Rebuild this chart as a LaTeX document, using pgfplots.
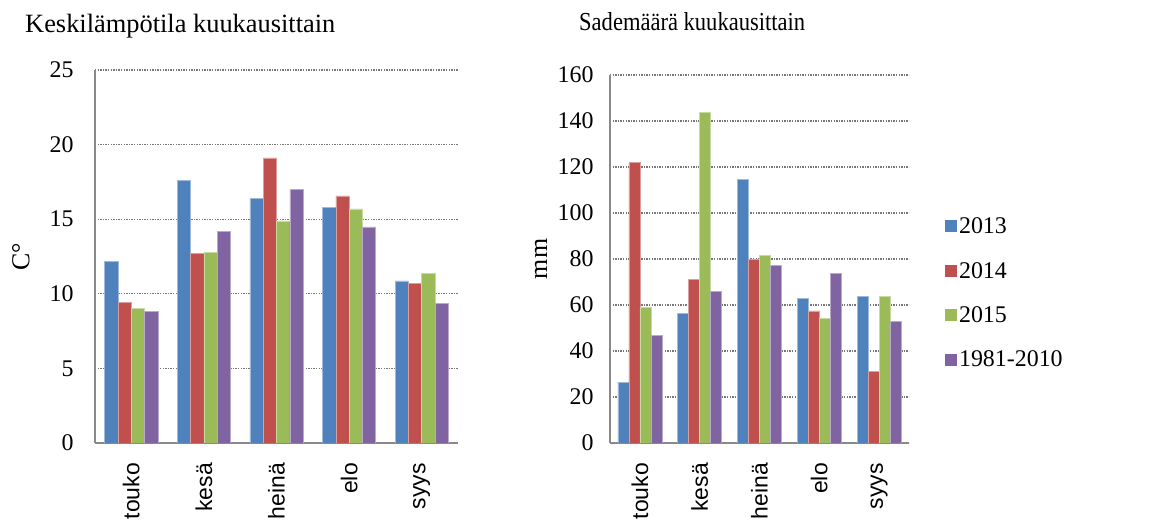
\documentclass[border=0pt]{standalone}
\usepackage{fontspec}
\setmainfont{Liberation Serif}
\newfontfamily\arialfont{Liberation Sans}
\newfontfamily\timesfont{Liberation Serif}
\usepackage{graphicx}
\usepackage{pgfplots}
\pgfplotsset{compat=1.18}
\definecolor{c1}{HTML}{4F81BD}
\definecolor{c2}{HTML}{C0504D}
\definecolor{c3}{HTML}{9BBB59}
\definecolor{c4}{HTML}{8064A2}
\definecolor{axgray}{HTML}{898989}
\definecolor{gridgray}{HTML}{777777}

\pgfplotsset{
 mybars/.style={
  ybar=0pt,
  scale only axis,
  xmin=-0.5, xmax=4.5,
  ymin=0,
  xtick={0,1,2,3,4},
  xticklabels={touko,kesä,heinä,elo,syys},
  axis x line*=bottom, axis y line*=left,
  axis line style={axgray, line width=1.5bp, -},
  major tick length=0pt,
  ymajorgrids,
  major grid style={gridgray, line width=1.3bp, dash pattern=on 1.3bp off 1.3bp},
  xticklabel style={font=\arialfont\fontsize{23}{23}\selectfont, rotate=90, anchor=east, inner xsep=20bp},
  yticklabel={\timesfont\fontsize{24}{24}\selectfont\pgfmathprintnumber[assume math mode=true]{\tick}},
  ylabel style={font=\timesfont\fontsize{26}{26}\selectfont, anchor=center},
 }
}

\begin{document}
\begin{tikzpicture}
% Left chart: temperature
\begin{axis}[mybars,
  at={(95bp,83bp)}, anchor=south west,
  width=363bp, height=373bp,
  bar width=13.3bp,
  ymax=25, ytick={0,5,10,15,20,25},
  yticklabel style={xshift=-18bp},
  ylabel={C°},
  ylabel style={at={(axis description cs:-0.204,0.5)}},
]
\addplot[fill=c1, draw=c1!55!white, line width=0.6bp] coordinates {(0,12.16) (1,17.6) (2,16.38) (3,15.78) (4,10.87)};
\addplot[fill=c2, draw=c2!55!white, line width=0.6bp] coordinates {(0,9.44) (1,12.69) (2,19.11) (3,16.56) (4,10.71)};
\addplot[fill=c3, draw=c3!55!white, line width=0.6bp] coordinates {(0,9.04) (1,12.8) (2,14.89) (3,15.69) (4,11.36)};
\addplot[fill=c4, draw=c4!55!white, line width=0.6bp] coordinates {(0,8.82) (1,14.16) (2,16.98) (3,14.49) (4,9.33)};
\end{axis}

% Right chart: precipitation
\begin{axis}[mybars,
  at={(610bp,83bp)}, anchor=south west,
  width=299bp, height=368bp,
  bar width=11bp,
  ymax=160, ytick={0,20,40,60,80,100,120,140,160},
  yticklabel style={xshift=-13bp},
  ylabel={mm},
  ylabel style={at={(axis description cs:-0.231,0.5)}},
  legend style={at={(axis description cs:1.12,0.4076)}, anchor=west, draw=none, fill=none,
    font=\timesfont\fontsize{24}{24}\selectfont, row sep=23bp, inner sep=0pt},
  legend cell align=left,
  legend image code/.code={\fill[#1,draw=none] (0bp,-6bp) rectangle (12bp,6bp);},
]
\addplot[fill=c1, draw=c1!55!white, line width=0.6bp] coordinates {(0,26.5) (1,56.2) (2,114.7) (3,62.7) (4,63.7)};
\addplot[fill=c2, draw=c2!55!white, line width=0.6bp] coordinates {(0,121.9) (1,71.0) (2,79.9) (3,57.4) (4,31.1)};
\addplot[fill=c3, draw=c3!55!white, line width=0.6bp] coordinates {(0,58.9) (1,143.8) (2,81.4) (3,54.3) (4,63.7)};
\addplot[fill=c4, draw=c4!55!white, line width=0.6bp] coordinates {(0,46.9) (1,65.8) (2,77.1) (3,73.9) (4,52.9)};
\legend{2013,2014,2015,1981-2010}
\end{axis}

\node[anchor=base west, font=\timesfont\fontsize{26.5}{26.5}\selectfont, inner sep=0pt] at (25bp,493bp) {Keskilämpötila kuukausittain};
\node[anchor=base west, font=\timesfont\fontsize{26}{26}\selectfont, inner sep=0pt] at (579bp,495bp) {\scalebox{0.87}[1]{Sademäärä kuukausittain}};

\pgfresetboundingbox
\path (0bp,0bp) rectangle (1154bp,526bp);
\end{tikzpicture}
\end{document}
